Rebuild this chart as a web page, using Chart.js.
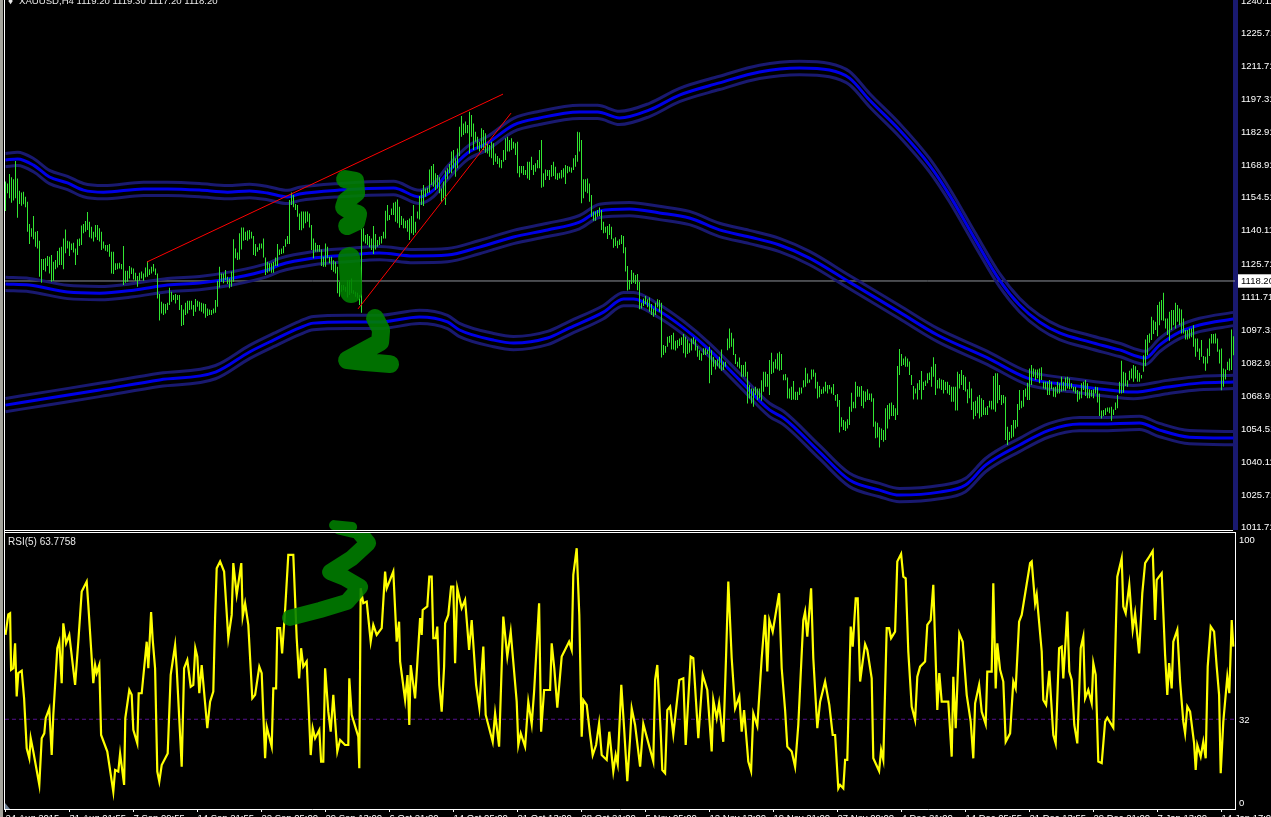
<!DOCTYPE html>
<html>
<head>
<meta charset="utf-8">
<title>XAUUSD H4</title>
<script src="https://cdn.jsdelivr.net/npm/chart.js@4"></script>
<style>
    html, body { margin: 0; padding: 0; background: #000; width: 1271px; height: 817px; overflow: hidden; }
    canvas { position: absolute; left: 0; }
    #priceChart { top: 0; }
    #rsiChart { top: 533px; }
    .label { position: absolute; color: #e8e8e8; font: 10px "Liberation Sans", Arial, sans-serif; white-space: pre; }
    .rule { position: absolute; background: #fff; }
</style>
</head>
<body>
<canvas id="priceChart" width="1271" height="530"></canvas>
<canvas id="rsiChart" width="1271" height="297"></canvas>
<div class="rule" style="left:0;top:0;width:3px;height:817px;background:#a4a49c"></div>
<div class="rule" style="left:4px;top:0;width:1px;height:810px"></div>
<div class="rule" style="left:4px;top:530px;width:1229px;height:1px"></div>
<div class="rule" style="left:4px;top:532px;width:1232px;height:1px"></div>
<div class="rule" style="left:5px;top:803px;width:5px;height:6px;background:#6f8296;clip-path:polygon(0 0,100% 100%,0 100%)"></div>
<div class="label" style="left:8px;top:-5px">♦</div>
<div class="label" style="left:19px;top:-5px;font-size:9.6px">XAUUSD,H4 1119.20 1119.30 1117.20 1118.20</div>
<div class="label" style="left:8px;top:536px">RSI(5) 63.7758</div>

<script>
// Price ticks, where they sit on the scale, and the text shown for them
const currentPrice = 1118.2;
const priceTicks = [1240.5, 1226.5, 1212.1, 1197.7, 1183.3, 1168.9, 1154.5, 1140.1, 1125.6, 1118.2, 1111.2, 1096.8, 1082.4, 1068, 1053.6, 1039.2, 1024.8, 1010.4];
const priceTickLabels = ['1240.11', '1225.71', '1211.71', '1197.31', '1182.91', '1168.91', '1154.51', '1140.11', '1125.71', '1118.20', '1111.71', '1097.31', '1082.91', '1068.91', '1054.51', '1040.11', '1025.71', '1011.71'];

// Time axis: one label every 32 bars
const timeLabels = ['24 Aug 2015', '31 Aug 01:55', '7 Sep 09:55', '14 Sep 21:55', '22 Sep 05:00', '29 Sep 13:00', '6 Oct 21:00', '14 Oct 05:00', '21 Oct 13:00', '28 Oct 21:00', '5 Nov 05:00', '12 Nov 13:00', '19 Nov 21:00', '27 Nov 09:00', '4 Dec 21:00', '14 Dec 05:55', '21 Dec 13:55', '29 Dec 21:00', '7 Jan 13:00', '14 Jan 17:00'];

// H4 bars, high and low per bar
const barHighs = [
    1161.6,1160.8,1164.9,1163.5,1162.6,1170.6,1163,1157.6,1156.8,1157.2,1155,1152.8,1143.1,1141.2,1146.6,1139.7,1140,1135.8,
    1127.8,1127.8,1128.1,1129.1,1128.8,1129.5,1126.6,1127.4,1131.3,1132.7,1133.2,1136.8,1140.7,1135.8,1135.4,1134.6,1134.9,1132.4,1136.4,1136.8,1142.4,1143.1,1144.4,1148.3,1144.1,1141.9,1139.7,1142.6,1142.6,1141.2,1139.7,1135.4,1133.9,1133.9,1134.3,1131,1131,1125.9,1125.9,1126.2,1125.6,1133.5,1122.7,1122.7,1124.7,1124.1,1123.7,1121.8,1120.4,1121.8,1122.3,1121.5,1124.1,1126.9,1123.3,1124.4,1125.6,1123.7,1121.5,1112.5,1109.1,1108.4,1108.1,1108.7,1115.3,1113.5,1112.1,1112.5,1112.1,1112.1,1107.7,1105.8,1108.7,1109.6,1109.6,1109.6,1107.7,1110.3,1109.6,1109.1,1108.7,1108.4,1108.1,1106.2,1105.8,1105.5,1106.2,1109.9,1118.3,1124.4,1121.5,1121.5,1123,1120.1,1119.3,1122.3,1136.4,1132.4,1130.6,1139,1141.6,1141.6,1139.7,1140.2,1140.5,1139.7,1137.8,1134.3,1132.9,1134.6,1134.6,1136.8,1128.5,1126.6,1125.9,1125.9,1126.6,1128.5,1134.3,1132,1132.4,1133.5,1136.4,1137.8,1153.6,1156.8,1155.7,1151.8,1151.4,1147.7,
    1148.5,1148.5,1148.5,1148.5,1147.7,1142.6,1136.8,1134.9,1133.9,1133.9,1132,1128.8,1134.6,1133.2,1128.8,1128.8,1127.3,1126.6,1124.4,1117.9,1116.4,1116.4,1115.7,1118.6,1118.6,1119.3,1114.2,1113.5,1113.1,1112.1,1141.2,1141.2,1138.3,1138.7,1137.8,1136.8,1142.2,1138.7,1136.1,1137.5,1137.8,1139.7,1148.9,1151.4,1147,1149.9,1152.4,1152.8,1153.8,1150.6,1146.6,1145.5,1144.5,1144.8,1145.5,1146.6,1151.4,1144.1,1148.5,1155.3,1157.9,1160.1,1158.6,1158.9,1166.9,1168.4,1169.3,1165.2,1164.5,1163.5,1158.6,1161.6,1166.4,1167.4,1169.3,1174.7,1175.4,1171.8,1176.1,1185.6,1190.2,1187,1187.8,1186.3,1192.1,1190.7,1187,1183.4,1181.2,1179,1184.9,1184.1,1182.7,1178.3,1177.6,1179,1178.3,1173.9,1172.8,1171.8,1171,1175.4,1180.5,1181.2,1179.8,1180.5,1179,1178.3,1179,1168.4,1168.4,1168.4,1166.7,1170.3,1170.3,1172.5,1168.8,1169.6,1171,1175.4,1179.8,1165.2,1166.9,1166.7,1166.7,1168.8,1170.3,1168.1,1165.2,1165.5,1166.7,1167.4,1168.8,1168.4,1168.1,1167.8,1171.8,1173.2,1183.4,1183.1,1179.8,1162.6,1162.6,1163,1160.8,1155.7,1148.5,1148.5,1149.2,1150.3,
    1149.2,1144.1,1141.9,1142.2,1143.1,1141.9,1136.8,1137.3,1135.8,1136.4,1138.3,1137.8,1132.9,1124.7,1118.6,1123,1121.8,1120.8,1121.2,1117.9,1108.7,1110.6,1111.6,1110.2,1111,1108.1,1106.2,1108.7,1110.2,1109.9,1108.7,1090.2,1089.8,1093.9,1094.2,1094.6,1095.6,1092.1,1092.4,1093.1,1093.6,1095,1093.9,1092.7,1091,1093.1,1093.6,1092.7,1089.8,1088,1086.6,1088.8,1088.8,1088.3,1089.5,1088,1085.1,1083.7,1084,1085.1,1088.3,1082.9,1082.9,1093.1,1097.5,1095.6,1093.1,1086.3,1082.9,1084.8,1081.5,1081.5,1082.9,1078.6,1072.8,1071.3,1071.3,1072,1071.3,1071.3,1074.9,1078.6,1078.6,1077.6,1083.7,1086.9,1082.9,1084,1086.6,1087.3,1086.3,1077.4,1077.6,1076.1,1071.3,1072,1074.5,1069.8,1069.8,1071.7,1071.7,1074.9,1080.3,1077.8,1075.2,1079.6,1079.6,1078.1,1074.2,1072.3,
    1070.9,1072,1074.2,1072.8,1072.8,1071.8,1073.2,1068.4,1068.8,1066.2,1058.7,1057.5,1056.8,1057.8,1063.3,1069.4,1065.5,1074.2,1072.3,1072,1072.3,1070.3,1069.9,1070.9,1069.1,1069.1,1067,1056.8,1056.3,1054.3,1053.8,1053.1,1062.6,1064,1064.8,1065.1,1064,1062.6,1081.1,1088.5,1086.3,1084.4,1085.2,1084.4,1083,1077.1,1072.3,1071.3,1073.5,1075,1078.9,1074.2,1074.7,1077.9,1078.2,1080.8,1084.9,1082,1075,1075.7,1075.2,1075,1074.2,1074.2,1072.8,1072,1072,1072,1078.6,1077.6,1079.3,1077.1,1076.4,1070.9,1074.2,1071.3,1065.5,1065.9,1067.7,1068.4,1067,1066.2,1063,1063.6,1065.9,1065.9,1076.7,1077.9,1077.9,1072.8,1068.4,1068.4,1067.7,1054.6,1052.4,1055.3,1057.5,1057.5,1064.5,1070.6,1065.9,1070.6,1071.3,1073.8,1080,1081.5,1080,1079.6,1079.6,1080,1080.5,1074.2,1074.2,1074.2,1075,1074.2,1071.8,1072,1074.2,1073.5,1076.4,1074.2,1076.1,1076.4,1075.7,1073.5,1072,1072,1070.6,1069.9,1073.5,1074.2,1075,1073.5,1070.9,1070.6,1070.9,1072,1071.8,1069.1,1061.6,1061.9,1062.6,1063,1063,1063.3,1062.1,1065.1,1068.4,1074.2,
    1083.4,1078.6,1078.1,1074.9,1079,1080,1081.5,1081,1079.3,1078.1,1077.1,1085.8,1092.7,1094.6,1095.3,1102.6,1101.1,1100.4,1107.7,1109.1,1109.9,1113.1,1101.8,1101.8,1104.8,1105.5,1105.5,1108.7,1107.7,1106.2,1105.8,1101.8,1096.8,1096.8,1097.5,1097.5,1098.9,1093.1,1093.1,1088.7,1092.4,1085.4,1085.1,1088.7,1093.1,1095,1095,1095.3,1093.1,1088.3,1088.7,1080,1079.6,1082.9,1084.4,1097,1094.1
];
const barLows = [
    1148.8,1156.5,1154.3,1152.4,1153.3,1154.3,1145.8,1151.8,1151,1151.7,1150.4,1139.7,1134.3,1137.5,1136.4,1133.2,1132.4,1120.1,
    1117.4,1123,1122.3,1124.7,1121.5,1117.9,1118.3,1123.3,1124.1,1125.2,1125.2,1123.3,1130.3,1132.4,1129.1,1131.7,1130.6,1125.2,1129.5,1133.5,1133.9,1139,1139.7,1140.5,1137.3,1136.8,1135.4,1137.3,1136.1,1135.4,1131.7,1132.4,1131.4,1131,1128.8,1121.5,1121.2,1123,1123.3,1123.7,1123.3,1116.4,1117.4,1117.9,1119.3,1121.2,1118.9,1118.3,1115.7,1118.3,1119.3,1118.3,1119.8,1120.1,1120.8,1121.5,1122.3,1120.8,1110.6,1100.9,1104,1103.3,1104,1105.5,1107.7,1109.1,1109.9,1108.4,1109.9,1105.5,1098.5,1099,1103.3,1104,1105.5,1105.8,1102.9,1104.8,1107,1105.2,1104.8,1104,1102.2,1102.9,1103.3,1103.3,1104,1104.3,1107,1115.4,1117.9,1117.2,1118.6,1116.9,1115,1115.7,1117.9,1128.1,1127.4,1127.6,1132,1135.8,1136.1,1135.8,1136.4,1136.8,1129.5,1129.1,1131,1131.7,1132.4,1128.5,1120.8,1121.8,1122.3,1121.8,1121.8,1124.7,1124.7,1129.5,1130,1130.3,1133.2,1134.3,1134.3,1151.4,1150.4,1149.2,1146.3,1140.5,
    1140.4,1141.2,1143.4,1144.1,1141.6,1131.7,1128.1,1131,1131,1131,1124.7,1124.4,1124.4,1128.1,1125.9,1123,1122.2,1121.5,1112.8,1111.3,1113.5,1114.2,1113.5,1111,1112.1,1112.8,1112.5,1111.3,1110.6,1107.7,1104.3,1135.4,1134.6,1133.9,1132.9,1131.7,1130,1132,1133.2,1133.9,1134.6,1136.8,1136.8,1144.5,1144.8,1147,1147,1144.1,1143.4,1141.5,1142.6,1141.2,1141.2,1139.7,1136.1,1139,1138.3,1139.3,1145.5,1145.1,1151.4,1150.9,1155,1156.5,1156.8,1160.1,1159.4,1157.9,1158.6,1156.5,1152.8,1154.3,1151.4,1162.6,1165.2,1165.2,1167.4,1163.7,1167.4,1172.8,1181.2,1181.9,1182.7,1182.7,1173.9,1181.2,1175.4,1179,1175.7,1174.7,1176.1,1175.4,1174.2,1173.9,1172.5,1171.8,1168.8,1170.3,1169.3,1167.8,1167.4,1170.3,1171,1174.7,1174.7,1175.4,1176.1,1173.2,1165.2,1163.5,1165.2,1164.5,1164.5,1163,1162.3,1166.7,1164.5,1165.9,1167.4,1167.4,1158.9,1159.4,1162.3,1164,1162.3,1163.7,1164,1162.6,1162.3,1163,1163,1163.5,1160.5,1165.2,1165.9,1165.5,1166.7,1168.1,1170.3,1174.7,1152.1,1154.3,1157.2,1156.5,1152.8,1146.3,1144.5,1144.5,1146.3,1146.6,
    1140.5,1139,1139.3,1136.5,1138.3,1136.4,1132.7,1133.5,1132.5,1133.9,1134.3,1130.3,1122.3,1114,1114.5,1116.9,1117.4,1116.9,1114.2,1105.9,1106.2,1107.3,1108.1,1106.7,1104.8,1103.3,1102.6,1103.3,1106.7,1104.8,1084.8,1085.9,1086.9,1089.5,1091.2,1088.3,1088.3,1087.8,1088.8,1089.8,1090.2,1086.6,1084.8,1086.3,1086.9,1087.8,1090.7,1087.8,1085.1,1083.7,1083.4,1085.9,1085.9,1086.3,1073.5,1077.1,1080.8,1079.6,1081,1080,1079,1079.3,1080.8,1088,1088.8,1089.5,1085.9,1081.9,1080.8,1080,1076.4,1076.4,1076.4,1064.7,1066.9,1064.7,1063.3,1068.4,1066.2,1066.9,1065.9,1069.8,1072,1072,1068.4,1077.6,1078.1,1080,1079.6,1079,1079.3,1074.9,1074.9,1066.9,1066.9,1066.2,1066.5,1066.2,1066.2,1068.4,1069.1,1071.7,1072,1073.5,1073.8,1075.2,1076.4,1071.3,1066.9,1067.4,
    1068.8,1069.1,1069.9,1069.1,1070.9,1069.1,1068.4,1065.9,1063.3,1052,1054.6,1053.1,1052.7,1053.8,1055.3,1061.1,1062.6,1062.6,1067.7,1067.7,1063.6,1062.6,1065.5,1066.2,1066.2,1065.5,1054.6,1049.5,1049.9,1045.5,1048.8,1048,1048.8,1053.8,1057.8,1059.2,1059.2,1057.5,1059.7,1077.1,1081.1,1081.5,1080.8,1080.8,1077.1,1072.8,1066.5,1069.1,1066.5,1070.6,1066.5,1070.6,1072.3,1073.5,1075,1072,1076.4,1068.4,1071.3,1071.3,1070.6,1069.1,1070.6,1069.1,1068.4,1065.5,1065.5,1061.6,1061.6,1071.3,1072.8,1070.6,1069.9,1064.8,1067,1061.9,1057.8,1059.2,1060.4,1058.2,1058.9,1059.7,1059.7,1059.7,1063,1062.1,1062.1,1061.1,1064.8,1066.2,1064,1064.8,1048.8,1046.6,1048.8,1049.5,1050.2,1053.8,1054.6,1061.9,1062.6,1063.3,1067.7,1066.2,1066.2,1072.8,1076.4,1075,1075.7,1073.5,1075,1071.3,1070.9,1068.4,1068.4,1070.9,1067.7,1067.4,1069.1,1069.1,1069.9,1070.3,1070.3,1071.3,1070.9,1071.3,1069.9,1069.1,1065.5,1066.5,1067,1070.6,1068,1067,1067,1067.7,1067,1069.1,1065.1,1059.2,1058.2,1059.2,1059.7,1061.1,1060.4,1057.2,1059.7,1061.9,1062.6,1069.1,
    1069.1,1069.4,1072.3,1072,1074.9,1075.6,1074.2,1075.6,1074.2,1074.2,1075.6,1078.6,1081,1085.8,1091.2,1092.4,1095,1096.8,1094.1,1098.9,1101.1,1100.8,1097.5,1094.6,1092.1,1096.8,1098.9,1097.5,1100.4,1098.9,1095.3,1095.3,1092.7,1092.7,1093.1,1093.6,1089.5,1085.1,1087.3,1083.7,1085.1,1082.2,1079,1082.2,1085.4,1090.9,1090.9,1090.9,1087.3,1082.2,1070.5,1072,1075.2,1079.3,1079,1079.3,1085.8
];

// Three envelope channels; x positions are bar numbers
const upperBars = [0,6,14,22,31,39,49,69,81,97,111,122,131,141,147,167,194,207,214,221,231,241,254,267,287,296,307,322,337,357,377,397,412,422,432,447,462,472,485,497,507,517,527,542,557,570,577,587,597,614];
const upperTop = [1173.9,1174.4,1171.7,1166.5,1163.9,1160.8,1159.9,1161.3,1161.3,1160.8,1159.9,1160.4,1159.5,1157.8,1159.1,1160.8,1161.7,1157.8,1160.8,1168.3,1177,1181.3,1189.2,1192.3,1194.9,1194.9,1192.3,1195.8,1202.3,1207.6,1212.4,1214.1,1213.2,1209.7,1200.1,1187,1171.7,1158.6,1139,1121.5,1110.6,1103.2,1098.4,1094.5,1091,1087.5,1093.1,1098.8,1101.9,1104.5];
const upperMid = [1171,1171.5,1168.8,1163.6,1161,1157.9,1157,1158.4,1158.4,1157.9,1157,1157.5,1156.6,1154.9,1156.2,1157.9,1158.8,1154.9,1157.9,1165.4,1174.1,1178.4,1186.3,1189.4,1192,1192,1189.4,1192.9,1199.4,1204.7,1209.5,1211.2,1210.3,1206.8,1197.2,1184.1,1168.8,1155.7,1136.1,1118.6,1107.7,1100.3,1095.5,1091.6,1088.1,1084.6,1090.2,1095.9,1099,1101.6];
const upperBot = [1168.1,1168.6,1165.9,1160.7,1158.1,1155,1154.1,1155.5,1155.5,1155,1154.1,1154.6,1153.7,1152,1153.3,1155,1155.9,1152,1155,1162.5,1171.2,1175.5,1183.4,1186.5,1189.1,1189.1,1186.5,1190,1196.5,1201.8,1206.6,1208.3,1207.4,1203.9,1194.3,1181.2,1165.9,1152.8,1133.2,1115.7,1104.8,1097.4,1092.6,1088.7,1085.2,1081.7,1087.3,1093,1096.1,1098.7];

const middleBars = [0,12,31,47,64,81,97,114,131,137,154,171,187,204,221,237,254,271,287,297,312,327,342,357,372,387,402,422,447,466,491,511,532,556,564,581,597,614];
const middleTop = [1119.8,1119.3,1116.3,1115.8,1117.1,1119.3,1120.2,1122.4,1125.9,1128.1,1131.1,1132.4,1133.3,1132,1132.4,1135.9,1140.3,1143.4,1146.8,1151.7,1152.5,1150.8,1148.6,1143.4,1140.3,1136.8,1131.1,1120.6,1107.5,1097.5,1087.5,1078.7,1075.7,1073.1,1072.6,1074.8,1076.5,1077];
const middleMid = [1116.9,1116.4,1113.4,1112.9,1114.2,1116.4,1117.3,1119.5,1123,1125.2,1128.2,1129.5,1130.4,1129.1,1129.5,1133,1137.4,1140.5,1143.9,1148.8,1149.6,1147.9,1145.7,1140.5,1137.4,1133.9,1128.2,1117.7,1104.6,1094.6,1084.6,1075.8,1072.8,1070.2,1069.7,1071.9,1073.6,1074.1];
const middleBot = [1114,1113.5,1110.5,1110,1111.3,1113.5,1114.4,1116.6,1120.1,1122.3,1125.3,1126.6,1127.5,1126.2,1126.6,1130.1,1134.5,1137.6,1141,1145.9,1146.7,1145,1142.8,1137.6,1134.5,1131,1125.3,1114.8,1101.7,1091.7,1081.7,1072.9,1069.9,1067.3,1066.8,1069,1070.7,1071.2];

const lowerBars = [0,22,47,77,105,122,134,147,154,171,187,207,221,227,244,254,271,282,299,309,314,326,339,352,367,382,389,407,422,437,447,467,480,490,507,522,537,547,567,577,592,614];
const lowerTop = [1066.9,1070,1073.5,1077.9,1081.3,1090.1,1095.3,1100.6,1102.7,1103.2,1103.2,1105.4,1103.2,1099.7,1095.3,1094,1096.2,1100.6,1107.5,1113.2,1113.2,1108.4,1100.6,1091,1077.9,1064.8,1061.3,1046.4,1034.2,1029.8,1027.6,1028.9,1032,1040.7,1049.5,1056,1058.6,1058.6,1059.1,1056,1052.9,1052.5];
const lowerMid = [1064,1067.1,1070.6,1075,1078.4,1087.2,1092.4,1097.7,1099.8,1100.3,1100.3,1102.5,1100.3,1096.8,1092.4,1091.1,1093.3,1097.7,1104.6,1110.3,1110.3,1105.5,1097.7,1088.1,1075,1061.9,1058.4,1043.5,1031.3,1026.9,1024.7,1026,1029.1,1037.8,1046.6,1053.1,1055.7,1055.7,1056.2,1053.1,1050,1049.6];
const lowerBot = [1061.1,1064.2,1067.7,1072.1,1075.5,1084.3,1089.5,1094.8,1096.9,1097.4,1097.4,1099.6,1097.4,1093.9,1089.5,1088.2,1090.4,1094.8,1101.7,1107.4,1107.4,1102.6,1094.8,1085.2,1072.1,1059,1055.5,1040.6,1028.4,1024,1021.8,1023.1,1026.2,1034.9,1043.7,1050.2,1052.8,1052.8,1053.3,1050.2,1047.1,1046.7];

// Trend lines drawn on the chart
const trendUpperBars = [70.75, 248.75];
const trendUpperPrices = [1126.5, 1199.8];
const trendLowerBars = [176.25, 252.75];
const trendLowerPrices = [1106, 1191.5];

// Hand drawn green figures: 3, 1, 2 on the price window, 3 on the RSI window
const markThreeBars = [169.8,174.8,175.3,170.3,169.3,173.3,176.3,175.3,170.8];
const markThreePrices = [1162.7,1161.9,1156.6,1153.1,1150.5,1148.3,1147.4,1144,1142.2];
const markOneBars = [171.8,172.3,172.8,172.8];
const markOnePrices = [1128.2,1123,1116.4,1113.4];
const markTwoBars = [184.8,187.8,187.3,178.3,170.8,179.8,192.3];
const markTwoPrices = [1102,1096.8,1091.5,1087.2,1083.7,1082.8,1081.9];
const markTipBars = [164.3,173.3];
const markTipPrices = [1011.6,1010.8];
const markRsiBars = [167.3,176.3,181.3,173.3,162.3,169.8,177.3,170.8,157.3,142.3];
const markRsiValues = [103,101.5,97,91.5,86.3,84.1,80.8,75.3,72.3,69.4];

// RSI(5) turning points
const rsiBars = [
    0,1.4,2.3,2.8,3.9,4.8,5.6,6.4,8.1,9.3,10.6,11.9,12.6,13.9,16.9,18.1,19.4,20.1,21.9,23.1,23.9,25.9,26.9,28.1,28.9,30.3,31.9,34.8,36.4,38.1,40.6,41.4,43.9,44.8,45.6,46.9,47.8,50.9,53.9,54.8,56.4,57.3,59.3,59.9,61.9,63.1,63.9,65.9,66.6,68.1,70.6,71.4,72.8,73.6,74.8,75.9,76.9,78.1,81.1,82.6,84.8,85.6,88.1,89.3,90.9,92.6,93.9,94.9,95.9,96.9,98.1,99.8,100.9,102.3,103.9,104.8,105.6,107.3,109.3,111.4,113.1,113.9,115.6,117.9,118.6,119.8,121.4,123.4,124.8,126.9,128.1,129.8,130.6,133.1,133.9,135.3,135.9,137.3,138.3,139.8,141.4,143.9,145.6,146.8,147.8,148.9,150.6,152.6,153.6,154.8,156.9,157.8,158.9,159.8,161.4,162.6,163.9,165.9,167.3,169.8,171.4,171.9,173.1,176.4,176.9,177.6,178.9,180.6,182.6,183.9,185.6,188.1,189.8,190.6,193.9,195.6,196.8,197.3,199.8,201,201.9,202.6,204.8,207.3,
    208.1,208.6,210.9,211.9,213.1,213.9,215.1,215.9,216.9,218.1,219.3,219.8,221.4,222.8,223.9,224.8,225.9,228.1,229.8,231.8,233.1,235.3,236.9,238.9,240.1,243.6,244.8,246.8,248.9,250.9,252.6,255.6,256.4,257.6,259.8,261.4,263.1,264.3,266.8,267.8,269.3,272.3,273.1,274.4,275.9,278.1,280.6,281.8,283.1,283.9,285.6,286.9,288.1,288.9,290.6,292.3,293.6,295.3,296.8,298.1,300.6,301.9,303.9,305.1,306.1,307.9,309.3,310.9,312.3,313.1,314.8,317.3,318.9,323.9,324.8,325.9,327.6,328.4,329.8,330.9,332.3,333.9,336.9,338.9,340.1,342.6,343.9,346.4,348.6,350.9,353.1,353.9,355.6,356.8,358.9,360.3,361.4,363.1,364.8,366.9,368.1,369.3,370.6,371.4,372.8,373.9,375.9,378.1,379.8,380.9,381.9,383.6,386.8,388.1,389.8,390.9,393.1,394.8,396.4,398.9,399.8,400.9,402.8,403.9,405.9,407.3,409.8,411.9,413.6,414.8,416.4,
    417.3,418.9,419.8,420.9,422.6,423.6,425.1,426.1,427.3,428.6,429.8,430.9,433.1,433.9,436.8,437.8,438.9,440.6,441.8,442.8,444.8,445.9,447.8,448.9,450.1,451.4,453.1,454.8,455.9,457.3,459.8,460.9,462.6,463.9,464.8,465.9,466.9,468.1,471.4,473.1,473.9,475.1,476.9,478.6,480.6,482.6,483.9,484.8,486.8,488.1,490.1,490.9,493.1,493.9,495.1,495.9,497.3,498.9,500.1,502.3,503.9,505.1,506.8,508.1,509.3,512.3,513.1,514.8,515.6,518.1,518.9,520.3,521.9,523.9,525.1,526.8,528.1,528.9,530.9,531.9,533.1,534.4,535.9,537.6,538.9,539.8,541.4,543.1,543.9,545.1,546.4,548.1,549.8,550.9,553.9,555.3,555.9,558.1,558.9,560.1,561.9,563.6,564.8,566.8,568.4,569.8,571.4,573.6,574.8,575.6,578.1,579.8,580.9,581.8,583.1,583.9,585.9,587.3,588.9,589.8,590.9,592.3,594.3,595.1,595.9,597.6,598.9,600.1,601.1,602.6,604.3,605.6,606.8,607.6,608.9,610.9,611.9,613.1,613.9
];
const rsiValues = [
    63.1,70.7,71.1,50.2,50.8,60,40.4,49,49.9,39.7,21.3,17.6,25,20.1,7.8,25,26.8,32.4,36,18.8,33.6,58.2,60.6,45.3,67.4,60,63.1,44.7,60.6,79.1,82.8,74.2,45.3,52,49,52,26.2,20.1,5.3,13.3,12.7,19.4,7.8,32.4,42.8,41,28.1,23.1,41.6,41.6,60.6,50.8,71.5,61.3,50.8,12.7,9,15.1,19.4,48.4,59.4,50.8,14.5,50.8,53.9,44,44.7,58.2,55.1,41.6,52,37.9,28.7,38.5,42.2,69.3,87.7,90.2,86.5,61.9,70.5,89.6,77.9,89.6,69.9,74.8,66.8,39.7,41,51.4,49,17.6,29.3,21.9,43.4,43.4,65.6,65.6,56.3,72.3,92.6,92.6,61.9,47.1,58.2,51.4,53.3,18.8,28.7,25,28.1,16.4,16.4,50.8,34.8,27.4,41,20.1,24.4,22.5,22.5,47.1,33.6,25.6,13.9,80.3,74.8,75.4,60.6,66.8,63.1,65.6,86.5,80.3,86.5,60.6,68,53.3,39.1,48.3,29.9,52,39.7,69.3,
    63.1,72.3,73.6,84.6,84.6,61.9,61.9,66.2,44.7,34.8,51.4,67.4,70.5,80.9,80.9,52.7,80.3,73,76,57.6,68.6,44.7,36.3,58.8,33.6,23.7,34.2,21.9,69.9,55.1,64.3,38.5,22.5,26.8,21.9,38.5,30.2,42.2,74.8,27.4,42.8,42.8,60,50.8,36.3,55.1,58.8,60.6,57.6,85.3,95.1,70.5,25.6,39.1,37.3,26.2,18.8,22.5,30.5,18.8,17,27.4,12.7,18.8,15.4,44.7,28.7,9.2,25,36,29.9,14.5,30.3,16.4,46.5,52,27.4,13.3,12.1,35.4,36.7,26.4,46.5,47.1,22.5,55.1,54.5,25,48.4,42.8,20.1,39.1,32.4,37.9,23.7,55.7,82.8,54.5,36,40.4,27.4,35.4,23.7,16.4,12.9,34.2,29.5,54.5,70.5,49.6,68.6,64.3,78.5,50.8,35.4,21.9,20.1,14.5,29.9,68.6,71.7,62.5,80.3,54.5,28.7,38.5,45.9,37.3,26.2,26.2,6.5,
    7.8,6.5,17,17,66.2,58.8,76.6,76.6,45.9,53.3,59.7,57.6,47.1,17.6,12.9,20.7,17,65.6,65.6,61.9,64.3,90.2,93,84.6,84,57,36.7,31.7,47.7,51.4,53.3,66.8,68.6,81.6,60.6,35.4,49,38.5,38.5,18.2,47.7,28.7,63.7,60.6,41,31.1,17.6,37.9,44.7,34.8,30.2,49.6,49.6,82.2,43.4,60,50.2,45.9,23.7,26.8,45.9,43.4,68,70.5,76,89.6,90.2,74.8,77.9,57,39.1,37.3,49.9,26.2,23.1,58.2,58.8,47.1,71.7,49.6,46.5,29.9,23.1,58.2,62.5,39.7,42.8,37.9,52.7,48.4,16.4,15.8,31.1,32.6,28.9,69.3,84.6,91.4,73.6,71.1,81.6,65,71.1,56.3,78.5,89.6,91.4,94.1,68.6,83.4,85.9,55.7,41,52.7,43.4,60.6,65,45.9,31.1,26.8,36.7,34.8,23.1,13.3,22.5,18.2,23.7,17.6,51.4,66.2,64.3,51.4,41,12.1,31.1,47.7,41.6,68.6,58.8
];
const rsiLevel = 32;
const rsiTicks = [98.1, 31.7, 0.8];
const rsiTickLabels = ['100', '32', '0'];

const lastBar = 614;
const labelFont = { family: '"Liberation Sans", Arial, sans-serif', size: 9.5 };

function points(xs, ys) {
    return xs.map((x, i) => ({ x: x, y: ys[i] }));
}

function lineSet(xs, ys, color, width, order, extra) {
    return Object.assign({
        type: 'line',
        data: points(xs, ys),
        borderColor: color,
        borderWidth: width,
        pointRadius: 0,
        tension: 0,
        fill: false,
        order: order
    }, extra || {});
}

function bandSet(xs, ys, color, order) {
    return lineSet(xs, ys, color, 3, order, { cubicInterpolationMode: 'monotone' });
}

function markSet(xs, ys, width) {
    return lineSet(xs, ys, 'rgba(0, 128, 0, 0.88)', width, 1, {
        borderCapStyle: 'round',
        borderJoinStyle: 'round',
        clip: false
    });
}

// Labels sit next to the axis and may run off the canvas, so no room is reserved for them
function noOverflow(scale) {
    scale.paddingTop = 0;
    scale.paddingBottom = 0;
    scale.paddingLeft = 0;
    scale.paddingRight = 0;
}

function createPriceChart() {
    const navy = '#191970';
    const blue = '#0000e6';
    const datasets = [
        {
            type: 'bar',
            data: barHighs.map((high, i) => ({ x: i, y: [barLows[i], high] })),
            backgroundColor: '#32e632',
            barThickness: 1,
            inflateAmount: 0,
            order: 3
        },
        bandSet(upperBars, upperTop, navy, 6),
        bandSet(upperBars, upperBot, navy, 6),
        bandSet(upperBars, upperMid, blue, 5),
        bandSet(middleBars, middleTop, navy, 6),
        bandSet(middleBars, middleBot, navy, 6),
        bandSet(middleBars, middleMid, blue, 5),
        bandSet(lowerBars, lowerTop, navy, 6),
        bandSet(lowerBars, lowerBot, navy, 6),
        bandSet(lowerBars, lowerMid, blue, 5),
        lineSet([-0.25, 614.75], [currentPrice, currentPrice], '#8e929a', 1, 7),
        lineSet(trendUpperBars, trendUpperPrices, '#ff0000', 1, 2),
        lineSet(trendLowerBars, trendLowerPrices, '#ff0000', 1, 2),
        markSet(markThreeBars, markThreePrices, 18),
        markSet(markOneBars, markOnePrices, 22),
        markSet(markTwoBars, markTwoPrices, 18),
        markSet(markTipBars, markTipPrices, 10)
    ];

    new Chart(document.getElementById('priceChart').getContext('2d'), {
        type: 'bar',
        data: { datasets: datasets },
        options: {
            responsive: false,
            animation: false,
            devicePixelRatio: 1,
            layout: { padding: { left: 5, top: 0, right: 0, bottom: 1 } },
            plugins: { legend: { display: false }, tooltip: { enabled: false } },
            scales: {
                x: {
                    type: 'linear',
                    min: -0.25,
                    max: 614.75,
                    offset: false,
                    display: false
                },
                y: {
                    position: 'right',
                    min: 1009.9,
                    max: 1240.9,
                    grid: { display: false, drawTicks: false },
                    border: { color: '#191970', width: 5 },
                    afterBuildTicks: function(axis) {
                        axis.ticks = priceTicks.map(value => ({ value: value }));
                    },
                    afterFit: function(axis) {
                        axis.width = 36;
                        noOverflow(axis);
                    },
                    ticks: {
                        autoSkip: false,
                        padding: 6,
                        font: labelFont,
                        color: ctx => (ctx.tick && ctx.tick.value === currentPrice ? '#000' : '#fff'),
                        showLabelBackdrop: ctx => !!(ctx.tick && ctx.tick.value === currentPrice),
                        backdropColor: '#fff',
                        backdropPadding: { left: 3, right: 6, top: 1, bottom: 1 },
                        callback: (value, index) => priceTickLabels[index]
                    }
                }
            }
        }
    });
}

function createRsiChart() {
    new Chart(document.getElementById('rsiChart').getContext('2d'), {
        type: 'line',
        data: {
            datasets: [
                lineSet(rsiBars, rsiValues, '#ffff00', 2.2, 3),
                lineSet([-0.25, lastBar + 0.75], [rsiLevel, rsiLevel], '#55108f', 1, 4, { borderDash: [4, 3] }),
                markSet(markRsiBars, markRsiValues, 16)
            ]
        },
        options: {
            responsive: false,
            animation: false,
            devicePixelRatio: 1,
            layout: { padding: { left: 5, top: 0, right: 0, bottom: 0 } },
            plugins: { legend: { display: false }, tooltip: { enabled: false } },
            scales: {
                x: {
                    type: 'linear',
                    min: -0.25,
                    max: 614.75,
                    offset: false,
                    grid: { drawOnChartArea: false, color: '#fff', tickLength: 3 },
                    border: { color: '#fff', width: 1 },
                    afterBuildTicks: function(axis) {
                        axis.ticks = timeLabels.map((label, i) => ({ value: i * 32 }));
                    },
                    afterFit: function(axis) {
                        axis.height = 21;
                        noOverflow(axis);
                    },
                    ticks: {
                        autoSkip: false,
                        maxRotation: 0,
                        align: 'start',
                        padding: 1,
                        font: labelFont,
                        color: '#fff',
                        callback: (value, index) => timeLabels[index]
                    }
                },
                y: {
                    position: 'right',
                    min: -1.1,
                    max: 100.7,
                    grid: { display: false, drawTicks: false },
                    border: { color: '#fff', width: 1 },
                    afterBuildTicks: function(axis) {
                        axis.ticks = rsiTicks.map(value => ({ value: value }));
                    },
                    afterFit: function(axis) {
                        axis.width = 36;
                        noOverflow(axis);
                    },
                    ticks: {
                        autoSkip: false,
                        padding: 4,
                        font: labelFont,
                        color: '#fff',
                        callback: (value, index) => rsiTickLabels[index]
                    }
                }
            }
        }
    });
}

createPriceChart();
createRsiChart();
</script>
</body>
</html>
